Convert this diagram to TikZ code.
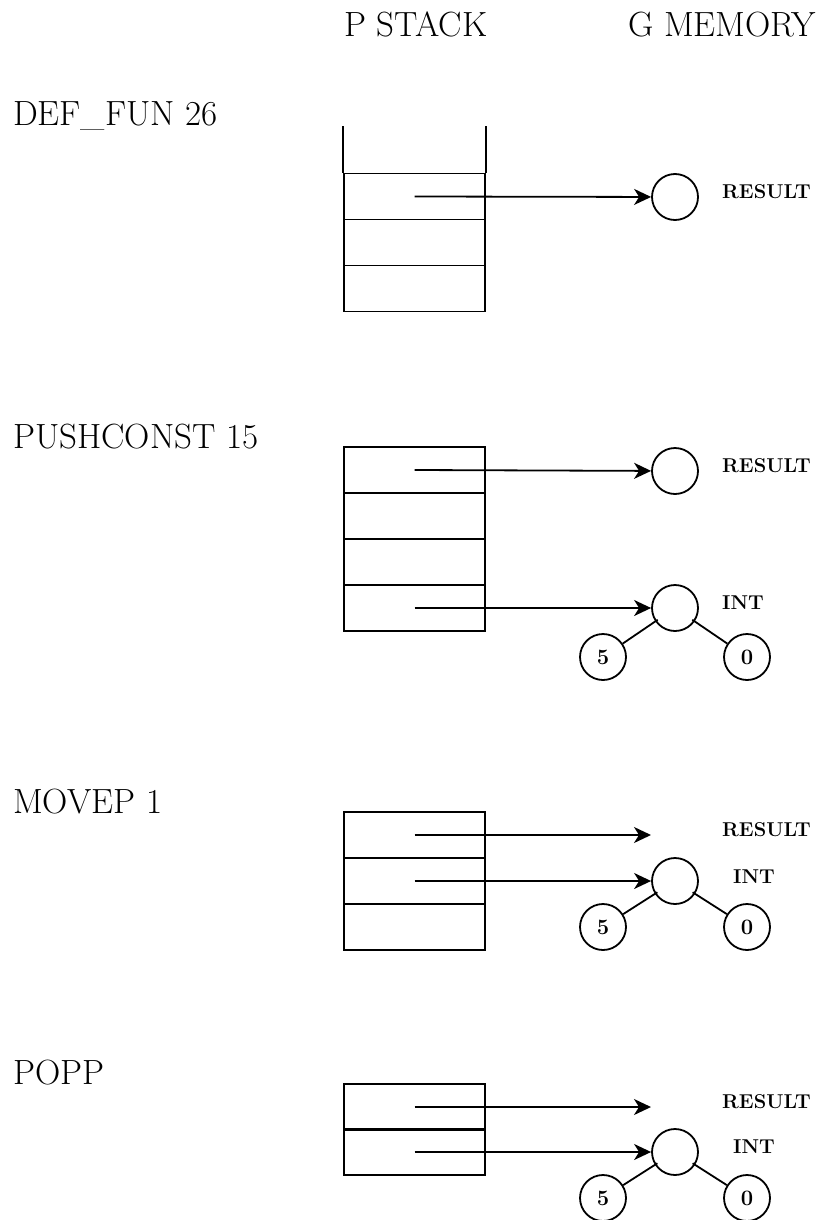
\documentclass[tikz,border=0pt]{standalone}
\usetikzlibrary{arrows.meta}
\begin{document}
\begin{tikzpicture}[x=1pt,y=-1pt,
  big/.style={font=\fontsize{35}{40}\selectfont,inner sep=0pt,anchor=base west},
  tag/.style={font=\fontsize{20}{24}\selectfont\bfseries,inner sep=0pt,anchor=west},
  cell/.style={draw,line width=1.8pt,minimum width=141pt,minimum height=46pt,inner sep=0pt},
  obj/.style={draw,circle,line width=1.8pt,minimum size=46pt,inner sep=0pt},
  leaf/.style={draw,circle,line width=1.8pt,minimum size=46pt,inner sep=0pt,font=\fontsize{22}{24}\selectfont\bfseries},
  ptr/.style={line width=1.8pt,-{Stealth[length=17pt,width=16pt,inset=5pt]}},
  edge/.style={line width=1.8pt,shorten <=-3pt}]
\useasboundingbox (0,0) rectangle (821,1220);

% headers
\node[big] (hp) at (344,37) {P STACK};
\node[big] (hg) at (628,37) {G MEMORY};

% ---- DEF_FUN 26
\node[big] (l1) at (13,126) {DEF\_FUN 26};
\node[cell] (a1) at (414.5,196.5) {};
\node[cell] (a2) at (414.5,242.5) {};
\node[cell] (a3) at (414.5,288.5) {};
\draw[line width=1.8pt] (a1.north west) -- ++(0,-47) coordinate (a0l);
\draw[line width=1.8pt] (a1.north east) -- ++(0,-47) coordinate (a0r);
\node[obj] (ar) at (675,197) {};
\node[tag] (art) at (722,192) {RESULT};
\draw[ptr] (a1.center) -- (ar);

% ---- PUSHCONST 15
\node[big] (l2) at (13,448) {PUSHCONST 15};
\node[cell] (b1) at (414.5,470) {};
\node[cell] (b2) at (414.5,516) {};
\node[cell] (b3) at (414.5,562) {};
\node[cell] (b4) at (414.5,608) {};
\node[obj] (br) at (675,471) {};
\node[tag] (brt) at (722,466) {RESULT};
\node[obj] (bi) at (675,608) {};
\node[tag] (bit) at (722,603) {INT};
\node[leaf] (b5) at (603,657) {5};
\node[leaf] (b0) at (747,657) {0};
\draw[ptr] (b1.center) -- (br);
\draw[ptr] (b4.center) -- (bi);
\draw[edge] (bi) -- (b5);
\draw[edge] (bi) -- (b0);

% ---- MOVEP 1
\node[big] (l3) at (13,813) {MOVEP 1};
\node[cell] (c1) at (414.5,835) {};
\node[cell] (c2) at (414.5,881) {};
\node[cell] (c3) at (414.5,927) {};
\coordinate (cr) at (651,835);
\node[tag] (crt) at (722,830) {RESULT};
\node[obj] (ci) at (675,881) {};
\node[tag] (cit) at (733,877) {INT};
\node[leaf] (c5) at (603,927) {5};
\node[leaf] (c0) at (747,927) {0};
\draw[ptr] (c1.center) -- (cr);
\draw[ptr] (c2.center) -- (ci);
\draw[edge] (ci) -- (c5);
\draw[edge] (ci) -- (c0);

% ---- POPP
\node[big] (l4) at (13,1084) {POPP};
\node[cell] (d1) at (414.5,1107) {};
\node[cell] (d2) at (414.5,1152) {};
\coordinate (dr) at (651,1107);
\node[tag] (drt) at (722,1102) {RESULT};
\node[obj] (di) at (675,1152) {};
\node[tag] (dit) at (733,1147) {INT};
\node[leaf] (d5) at (603,1198) {5};
\node[leaf] (d0) at (747,1198) {0};
\draw[ptr] (d1.center) -- (dr);
\draw[ptr] (d2.center) -- (di);
\draw[edge] (di) -- (d5);
\draw[edge] (di) -- (d0);
\end{tikzpicture}
\end{document}
